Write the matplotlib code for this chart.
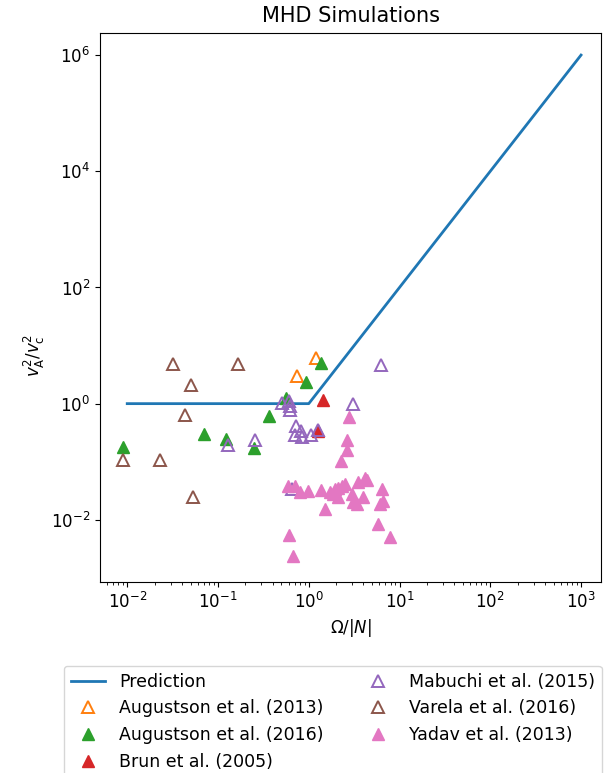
import matplotlib
matplotlib.use("Agg")
import matplotlib.pyplot as plt
from matplotlib.ticker import LogLocator, NullLocator

plt.rcParams['font.size'] = 12
plt.rcParams['font.family'] = ['DejaVu Sans']

# Prediction line
pred_x = [1e-2, 1.0, 1e3]
pred_y = [1.0, 1.0, 1e6]

# Augustson et al. (2013) - open orange
aug13_x = [1.21, 0.745]
aug13_y = [6.17, 3.03]

# Augustson et al. (2016) - filled green
aug16_x = [0.0090, 0.0705, 0.123, 0.25, 0.366, 0.563, 0.936, 1.37]
aug16_y = [0.182, 0.305, 0.25, 0.175, 0.62, 1.27, 2.39, 5.06]

# Brun et al. (2005) - filled red
brun_x = [1.44, 1.27]
brun_y = [1.17, 0.344]

# Mabuchi et al. (2015) - open purple
mab_x = [0.257, 0.129, 0.509, 0.608, 0.624, 0.624, 0.726, 0.824, 0.708, 0.846,
         1.06, 1.27, 6.27, 3.08, 0.656]
mab_y = [0.241, 0.198, 1.04, 1.13, 0.92, 0.79, 0.419, 0.344, 0.293, 0.271,
         0.293, 0.357, 4.68, 1.0, 0.0333]

# Varela et al. (2016) - open brown
var_x = [0.032, 0.167, 0.051, 0.0435, 0.0090, 0.0231, 0.0533]
var_y = [4.87, 4.87, 2.12, 0.647, 0.109, 0.109, 0.0252]

# Yadav et al. (2013) - filled pink
yad_x = [2.79, 2.65, 2.65, 2.28, 0.593, 0.708, 0.804, 0.985, 1.37, 1.72,
         1.95, 2.11, 2.33, 2.52, 1.86, 2.11, 3.01, 3.08, 3.41, 3.50,
         4.18, 4.40, 3.97, 6.43, 6.11, 6.59, 5.81, 7.87, 1.52, 0.608, 0.673]
yad_y = [0.598, 0.241, 0.162, 0.101, 0.0375, 0.0375, 0.0296, 0.0308, 0.032, 0.0296,
         0.0333, 0.036, 0.0375, 0.0406, 0.0273, 0.0243, 0.0273, 0.0199, 0.0184, 0.0457,
         0.0535, 0.0494, 0.0252, 0.0333, 0.0184, 0.0207, 0.00834, 0.00499, 0.0151, 0.0054, 0.00235]

fig = plt.figure(figsize=(6.09, 7.73), dpi=100)
ax = fig.add_axes([100/609, 1 - 582/773, 501/609, 549/773])

ax.plot(pred_x, pred_y, color='C0', lw=2, label='Prediction')
ms = 8.5
ax.plot(aug13_x, aug13_y, ls='none', marker='^', ms=ms, mfc='none', mec='C1', mew=1.4,
        label='Augustson et al. (2013)')
ax.plot(aug16_x, aug16_y, ls='none', marker='^', ms=ms, color='C2', mec='C2',
        label='Augustson et al. (2016)')
ax.plot(brun_x, brun_y, ls='none', marker='^', ms=ms, color='C3', mec='C3',
        label='Brun et al. (2005)')
ax.plot(mab_x, mab_y, ls='none', marker='^', ms=ms, mfc='none', mec='C4', mew=1.4,
        label='Mabuchi et al. (2015)')
ax.plot(var_x, var_y, ls='none', marker='^', ms=ms, mfc='none', mec='C5', mew=1.4,
        label='Varela et al. (2016)')
ax.plot(yad_x, yad_y, ls='none', marker='^', ms=ms, color='C6', mec='C6',
        label='Yadav et al. (2013)')

ax.set_xscale('log')
ax.set_yscale('log')
ax.set_xlim(10**-2.30, 10**3.22)
ax.set_ylim(10**-3.07, 10**6.38)
ax.yaxis.set_major_locator(LogLocator(base=10, subs=(1.0,), numticks=6))
ax.yaxis.set_minor_locator(NullLocator())

ax.set_title('MHD Simulations', fontsize=15, pad=8)
ax.set_xlabel(r'$\Omega/|N|$')
ax.set_ylabel(r'$v_{\rm A}^2/v_{\rm c}^2$')
ax.yaxis.set_label_coords(-0.106, 0.413)

fig.legend(loc='upper left', bbox_to_anchor=(55/609, 1 - 657/773), ncol=2,
           fontsize=12.5, columnspacing=2.1, frameon=True)

fig.savefig('out.png', dpi=100)
